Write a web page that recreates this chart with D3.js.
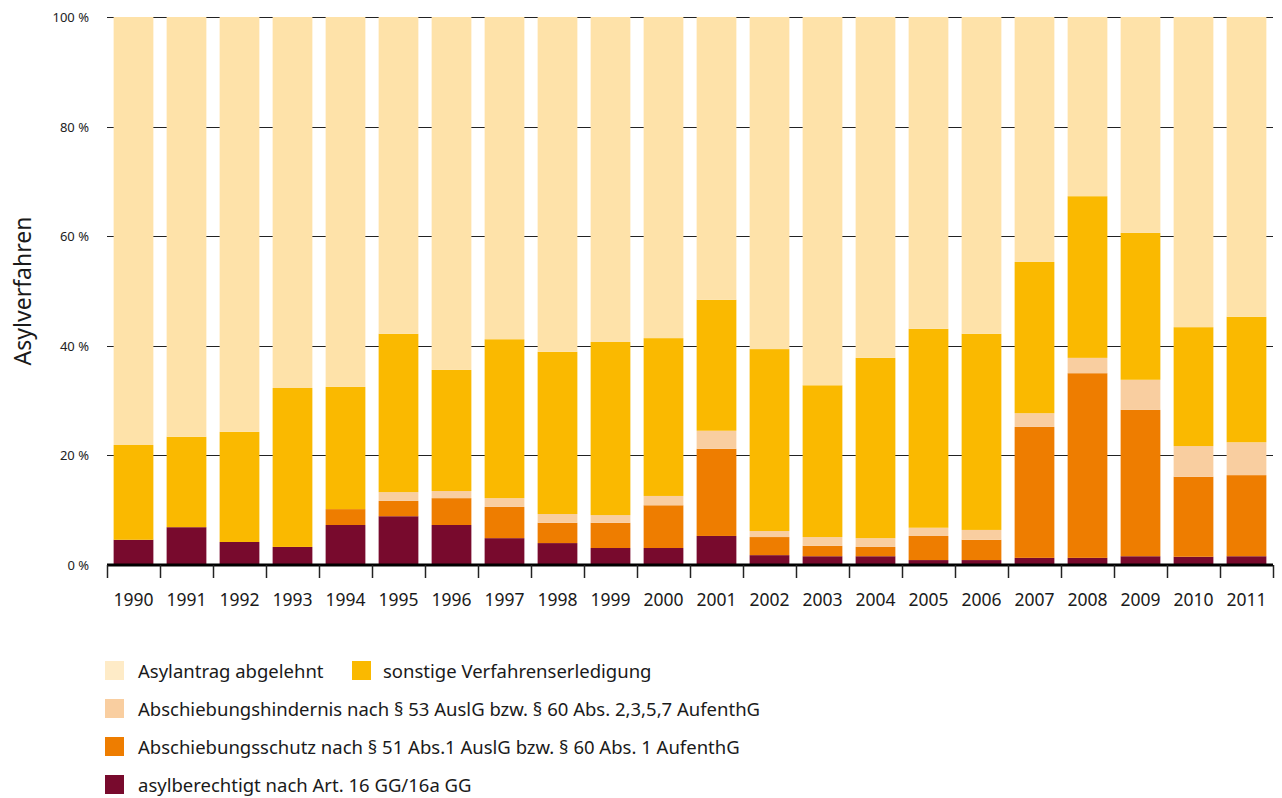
<!DOCTYPE html>
<html lang="de">
<head>
<meta charset="UTF-8">
<title>Asylverfahren</title>
<script src="https://d3js.org/d3.v7.min.js"></script>
<style>
  body { margin: 0; background: #fff; }
  svg { font-family: "Noto Sans", Arial, sans-serif; }
</style>
</head>
<body>
<div id="chart"></div>
<script>
var years = ["1990","1991","1992","1993","1994","1995","1996","1997","1998","1999","2000",
             "2001","2002","2003","2004","2005","2006","2007","2008","2009","2010","2011"];

// shares in percent, bottom to top
var asylberechtigt = [4.6,6.9,4.2,3.3,7.3,8.9,7.3,4.9,4.0,3.1,3.1,5.3,1.8,1.6,1.6,0.9,0.9,1.3,1.3,1.6,1.5,1.6];
var abschiebungsschutz = [0,0,0,0,2.9,2.8,4.9,5.7,3.7,4.6,7.8,15.9,3.3,1.9,1.7,4.4,3.7,23.9,33.7,26.7,14.6,14.8];
var abschiebungshindernis = [0,0,0,0,0,1.6,1.3,1.6,1.6,1.4,1.7,3.3,1.1,1.6,1.6,1.5,1.8,2.5,2.8,5.5,5.6,6.0];
var sonstige = [17.3,16.5,20.1,29.0,22.3,28.9,22.1,29.0,29.6,31.6,28.8,23.9,33.2,27.7,32.9,36.3,35.8,27.6,29.5,26.8,21.7,22.9];
var abgelehnt = [78.1,76.6,75.7,67.7,67.5,57.8,64.4,58.8,61.1,59.3,58.6,51.6,60.6,67.2,62.2,56.9,57.8,44.7,32.7,39.4,56.6,54.7];

var yTicks = [0, 20, 40, 60, 80, 100];

var series = [
    {key: "asyl", name: "asylberechtigt nach Art. 16 GG/16a GG", values: asylberechtigt, color: "#780a2d"},
    {key: "schutz", name: "Abschiebungsschutz nach § 51 Abs.1 AuslG bzw. § 60 Abs. 1 AufenthG", values: abschiebungsschutz, color: "#ee7d00"},
    {key: "hind", name: "Abschiebungshindernis nach § 53 AuslG bzw. § 60 Abs. 2,3,5,7 AufenthG", values: abschiebungshindernis, color: "#f9cea0"},
    {key: "sonst", name: "sonstige Verfahrenserledigung", values: sonstige, color: "#fab900"},
    {key: "abgel", name: "Asylantrag abgelehnt", values: abgelehnt, color: "#fee2a9"}
];

var width = 1282, height = 798;
var margin = {left: 107, right: 9, top: 17, bottom: 233};

var svg = d3.select("#chart").append("svg")
    .attr("width", width)
    .attr("height", height);

var table = years.map(function(y, i) {
    var row = {year: y};
    series.forEach(function(s) { row[s.key] = s.values[i]; });
    return row;
});

var stack = d3.stack().keys(series.map(function(s) { return s.key; }));
var stacked = stack(table);

var x = d3.scaleBand()
    .domain(years)
    .range([margin.left, width - margin.right])
    .paddingInner(0.25)
    .paddingOuter(0.125);

var y = d3.scaleLinear()
    .domain([0, 100])
    .range([height - margin.bottom, margin.top]);

// gridlines behind bars
svg.append("g")
    .selectAll("line")
    .data(yTicks.filter(function(d) { return d > 0; }))
    .enter().append("line")
    .attr("x1", margin.left)
    .attr("x2", width - margin.right)
    .attr("y1", function(d) { return Math.round(y(d)) + 0.5; })
    .attr("y2", function(d) { return Math.round(y(d)) + 0.5; })
    .attr("stroke", "#222")
    .attr("stroke-width", 1);

// y tick labels
svg.append("g")
    .selectAll("text")
    .data(yTicks)
    .enter().append("text")
    .attr("x", 89)
    .attr("y", function(d) { return y(d) + 5; })
    .attr("text-anchor", "end")
    .attr("font-size", 13)
    .attr("fill", "#222")
    .text(function(d) { return d + " %"; });

// bars
svg.append("g")
    .selectAll("g")
    .data(stacked)
    .enter().append("g")
    .attr("fill", function(d, i) { return series[i].color; })
    .selectAll("rect")
    .data(function(d) { return d; })
    .enter().append("rect")
    .attr("x", function(d) { return x(d.data.year); })
    .attr("width", x.bandwidth())
    .attr("y", function(d) { return y(d[1]); })
    .attr("height", function(d) { return y(d[0]) - y(d[1]); });

// x axis
var xAxisY = y(0);
svg.append("line")
    .attr("x1", margin.left)
    .attr("x2", width - margin.right)
    .attr("y1", xAxisY)
    .attr("y2", xAxisY)
    .attr("stroke", "#000")
    .attr("stroke-width", 3);

var step = x.step();
var bounds = d3.range(years.length + 1).map(function(i) { return margin.left + i * step; });
svg.append("g")
    .selectAll("line")
    .data(bounds)
    .enter().append("line")
    .attr("x1", function(d) { return Math.round(d) + 0.5; })
    .attr("x2", function(d) { return Math.round(d) + 0.5; })
    .attr("y1", xAxisY)
    .attr("y2", xAxisY + 13)
    .attr("stroke", "#222")
    .attr("stroke-width", 1.5);

svg.append("g")
    .selectAll("text")
    .data(years)
    .enter().append("text")
    .attr("x", function(d) { return x(d) + x.bandwidth() / 2; })
    .attr("y", 606)
    .attr("text-anchor", "middle")
    .attr("font-size", 17.5)
    .attr("fill", "#1a1a1a")
    .text(function(d) { return d; });

// y axis title
svg.append("text")
    .attr("transform", "translate(31," + ((margin.top + y(0)) / 2) + ") rotate(-90)")
    .attr("text-anchor", "middle")
    .attr("font-size", 23)
    .attr("fill", "#1a1a1a")
    .text("Asylverfahren");

// legend
var legendItems = [
    {s: series[4], x: 105, y: 661},
    {s: series[3], x: 352, y: 661},
    {s: series[2], x: 105, y: 699},
    {s: series[1], x: 105, y: 737},
    {s: series[0], x: 105, y: 775}
];
var legend = svg.append("g")
    .selectAll("g")
    .data(legendItems)
    .enter().append("g")
    .attr("transform", function(d) { return "translate(" + d.x + "," + d.y + ")"; });

legend.append("rect")
    .attr("width", 19)
    .attr("height", 19)
    .attr("fill", function(d) { return d.s.key === "abgel" ? "#feebc7" : d.s.color; });

legend.append("text")
    .attr("x", function(d) { return d.x > 200 ? 31 : 33; })
    .attr("y", 17)
    .attr("font-size", 18.5)
    .attr("fill", "#1a1a1a")
    .text(function(d) { return d.s.name; });
</script>
</body>
</html>
